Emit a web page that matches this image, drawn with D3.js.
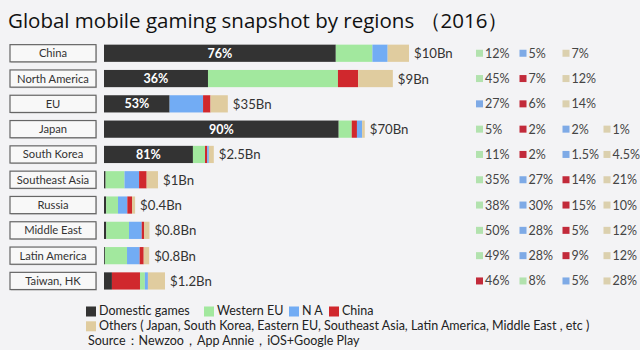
<!DOCTYPE html>
<html><head><meta charset="utf-8">
<script src="https://cdn.jsdelivr.net/npm/d3@7"></script>
<style>
html,body{margin:0;padding:0;background:#f3f3f5;}
svg{display:block;font-family:Lato,"Open Sans",sans-serif;}
</style></head>
<body><svg id="c" width="640" height="350"></svg>
<script>
const categories = ["China","North America","EU","Japan","South Korea","Southeast Asia","Russia","Middle East","Latin America","Taiwan, HK"];
const domestic     = [76, 36, 53, 90, 81, 3, 7, 5, 2, 13];
const westernEU    = [12, 45, null, 5, 11, 35, 38, 50, 49, 8];
const northAmerica = [5, null, 27, 2, 1.5, 27, 30, 28, 28, 5];
const chinaShare   = [null, 7, 6, 2, 2, 14, 15, 5, 9, 46];
const others       = [7, 12, 14, 1, 4.5, 21, 10, 12, 12, 28];
const revenueLabels = ["$10Bn","$9Bn","$35Bn","$70Bn","$2.5Bn","$1Bn","$0.4Bn","$0.8Bn","$0.8Bn","$1.2Bn"];
const barLength = [100, 94.7, 40.6, 85.5, 36, 17.7, 10.2, 14.9, 14.8, 20];
const segmentOrder = [
  ["W","N","O"],["W","C","O"],["N","C","O"],["W","C","N","O"],["W","C","N","O"],
  ["W","N","C","O"],["W","N","C","O"],["W","N","C","O"],["W","N","C","O"],["C","W","N","O"]
];
const legendLabels = ["Domestic games","Western EU","N A","China"];
const othersLabel = "Others ( Japan, South Korea, Eastern EU, Southeast Asia, Latin America, Middle East , etc )";
const titleText = "Global mobile gaming snapshot by regions （2016）";
const sourceText = "Source：Newzoo，App Annie，iOS+Google Play";

const seriesValues = {D: domestic, W: westernEU, N: northAmerica, C: chinaShare, O: others};
const barColor = {D:"#333333", W:"#a2e89e", N:"#72acf4", C:"#d0282d", O:"#e0cc9f"};
const listColor = {W:"#b2e2ae", N:"#7eaae6", C:"#c22a3a", O:"#dbd0ae"};

const svg = d3.select("#c");
svg.append("rect").attr("width",640).attr("height",350).attr("fill","#f3f3f5");

svg.append("text").attr("x",8).attr("y",28).attr("font-size",20.5).attr("fill","#111")
  .attr("font-family","'Open Sans',sans-serif").text(titleText);

const y = d3.scaleBand().domain(categories).range([40.6, 293.6]).paddingInner(0.32).paddingOuter(0.16);
const len = d3.scaleLinear().domain([0,100]).range([0,305]);
const x0 = 104;

const rows = categories.map((c,i)=>{
  const keys = ["D"].concat(segmentOrder[i]);
  let acc = 0;
  const total = len(barLength[i]);
  const segs = keys.map(k=>{
    const v = seriesValues[k][i];
    const w = total * v / 100;
    const s = {k, v, x: x0 + acc, w};
    acc += w;
    return s;
  });
  return {c, i, segs, end: x0 + acc};
});

const g = svg.selectAll("g.row").data(rows).join("g").attr("class","row")
  .attr("transform", d=>`translate(0,${y(d.c)})`);
const bh = y.bandwidth();

// category boxes
g.append("rect").attr("x",11).attr("y",1).attr("width",86).attr("height",bh).attr("fill","#cfcfcf");
g.append("rect").attr("x",10).attr("y",0).attr("width",86).attr("height",bh)
  .attr("fill","#f8f8f8").attr("stroke","#666").attr("stroke-width",1.2);
g.append("text").attr("x",53).attr("y",bh/2+4).attr("text-anchor","middle")
  .attr("font-size",11.2).attr("fill","#333").text(d=>d.c);

// bar segments
g.selectAll("rect.seg").data(d=>d.segs).join("rect").attr("class","seg")
  .attr("x",d=>d.x).attr("y",0).attr("width",d=>d.w).attr("height",bh)
  .attr("fill",d=>barColor[d.k]);

// domestic percentage labels
g.filter(d=>d.segs[0].v >= 30).append("text")
  .attr("x",d=>d.segs[0].x + d.segs[0].w/2).attr("y",bh/2+4.5)
  .attr("text-anchor","middle").attr("font-size",12.5).attr("font-weight","bold").attr("fill","#fff")
  .text(d=>d.segs[0].v + "%");

// revenue labels
g.append("text").attr("x",d=>d.end+5).attr("y",bh/2+5)
  .attr("font-size",13.2).attr("fill","#333").text(d=>revenueLabels[d.i]);

// right side list
const colX = [476, 519.5, 562.5, 603.5];
g.each(function(d){
  const sel = d3.select(this);
  const items = d.segs.slice(1);
  items.forEach((s,j)=>{
    sel.append("rect").attr("x",colX[j]).attr("y",bh/2-3.5).attr("width",7).attr("height",7)
      .attr("fill",listColor[s.k]);
    sel.append("text").attr("x",colX[j]+9).attr("y",bh/2+4.5)
      .attr("font-size",12.5).attr("fill","#444").text(s.v + "%");
  });
});

// legend
const lg = svg.append("g");
const legX = [86, 204, 289, 329];
const legKeys = ["D","W","N","C"];
legKeys.forEach((k,j)=>{
  lg.append("rect").attr("x",legX[j]).attr("y",306.5).attr("width",10).attr("height",10).attr("fill",barColor[k]);
  lg.append("text").attr("x",legX[j]+13).attr("y",315.3).attr("font-size",12.5).attr("fill","#222").text(legendLabels[j]);
});
lg.append("rect").attr("x",86).attr("y",321.3).attr("width",10).attr("height",10).attr("fill",barColor.O);
lg.append("text").attr("x",99).attr("y",330.3).attr("font-size",12.5).attr("fill","#222").text(othersLabel);
lg.append("text").attr("x",88).attr("y",345.3).attr("font-size",12.5).attr("fill","#222").text(sourceText);
</script></body></html>
